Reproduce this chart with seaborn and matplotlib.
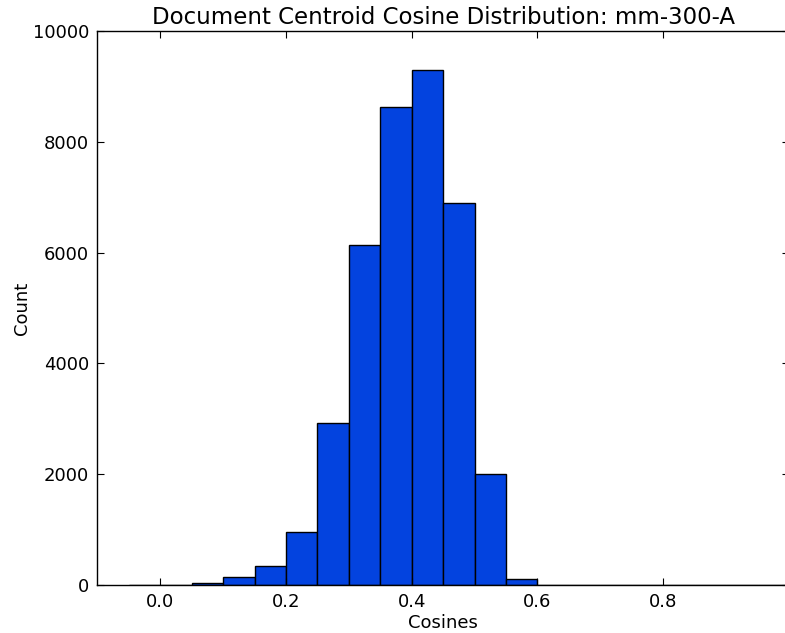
import numpy as np
import pandas as pd
import matplotlib
matplotlib.use("Agg")
import matplotlib.pyplot as plt
import seaborn as sns

# histogram bins (width 0.05) and counts
bin_edges = [-0.05, 0.0, 0.05, 0.1, 0.15, 0.2, 0.25, 0.3, 0.35, 0.4, 0.45,
             0.5, 0.55, 0.6, 0.65, 0.7, 0.75, 0.8, 0.85, 0.9, 0.95, 1.0]
counts = [0, 0, 40, 150, 340, 950, 2920, 6130, 8630, 9300, 6900,
          2000, 105, 0, 0, 0, 0, 0, 0, 0, 0]

title = "Document Centroid Cosine Distribution: mm-300-A"

plt.rcParams['font.family'] = ['DejaVu Sans']
plt.rcParams['xtick.direction'] = 'in'
plt.rcParams['ytick.direction'] = 'in'

edges = np.array(bin_edges)
df = pd.DataFrame({"Cosines": (edges[:-1] + edges[1:]) / 2, "Count": counts})

fig = plt.figure(figsize=(7.85, 6.33), dpi=100)
ax = fig.add_axes([97.3 / 785, 48 / 633, (789 - 97.3) / 785, 554 / 633])

sns.histplot(data=df, x="Cosines", weights="Count", bins=list(bin_edges), ax=ax,
             color="#0343df", alpha=1.0, edgecolor="black", linewidth=1.0)

ax.set_xlim(-0.1, 1.0)
ax.set_ylim(0, 10000)
ax.set_xticks([0.0, 0.2, 0.4, 0.6, 0.8])
ax.set_xticklabels(["0.0", "0.2", "0.4", "0.6", "0.8"])
ax.set_yticks([0, 2000, 4000, 6000, 8000, 10000])
ax.tick_params(axis='both', which='major', labelsize=13, length=5, width=0.8,
               top=True, right=True, pad=6)
ax.set_title(title, fontsize=16.5, pad=5)
ax.set_xlabel("Cosines", fontsize=13, labelpad=2)
ax.set_ylabel("Count", fontsize=13, labelpad=1)
for s in ax.spines.values():
    s.set_linewidth(1.0)

fig.savefig("out.png", dpi=100)
